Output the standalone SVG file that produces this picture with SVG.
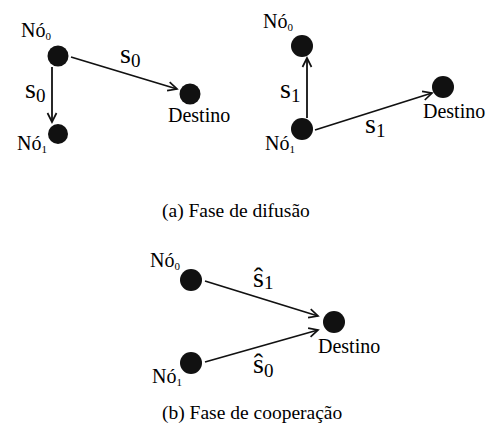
<svg xmlns="http://www.w3.org/2000/svg" width="492" height="432" viewBox="0 0 492 432" font-family="'Liberation Serif', 'Times New Roman', serif">
<style>
text{font-family:"Liberation Serif","Times New Roman",serif;fill:#000}
.lbl{font-size:20px}
.sub{font-size:11px}
.sym{font-size:28px}
.ssub{font-size:19px}
.cap{font-size:19.5px}
.node{fill:#111}
.edge{stroke:#111;stroke-width:1.8;fill:none}
</style>
<defs>
<marker id="arr" markerUnits="userSpaceOnUse" markerWidth="12" markerHeight="12" viewBox="0 0 12 12" refX="10" refY="6" orient="auto">
<path d="M1,1.5 L10,6 L1,10.5" fill="none" stroke="#111" stroke-width="1.7"/>
</marker>
</defs>
<rect width="492" height="432" fill="#fff"/>
<g id="connectors">
<line class="edge" x1="71" y1="57" x2="177" y2="89" marker-end="url(#arr)"/>
<line class="edge" x1="52" y1="67" x2="52" y2="122" marker-end="url(#arr)"/>
<line class="edge" x1="307" y1="118" x2="307" y2="58" marker-end="url(#arr)"/>
<line class="edge" x1="315" y1="130" x2="432" y2="93" marker-end="url(#arr)"/>
<line class="edge" x1="205" y1="281" x2="318" y2="316" marker-end="url(#arr)"/>
<line class="edge" x1="205" y1="362" x2="318" y2="330" marker-end="url(#arr)"/>
</g>
<g id="edge-labels">
<text class="sym" x="120" y="63">s<tspan class="ssub" dy="4">0</tspan></text>
<text class="sym" x="25" y="98">s<tspan class="ssub" dy="4">0</tspan></text>
<text class="sym" x="280" y="98">s<tspan class="ssub" dy="4">1</tspan></text>
<text class="sym" x="365" y="133">s<tspan class="ssub" dy="4">1</tspan></text>
<text class="sym" x="253" y="287">ŝ<tspan class="ssub" dy="2">1</tspan></text>
<text class="sym" x="253" y="373">ŝ<tspan class="ssub" dy="4">0</tspan></text>
</g>
<g id="a-no0">
<circle class="node" cx="58" cy="56" r="10.5"/>
<text class="lbl" x="21" y="37">Nó<tspan class="sub" dy="3">0</tspan></text>
</g>
<g id="a-no1">
<circle class="node" cx="58" cy="134" r="10"/>
<text class="lbl" x="17" y="150">Nó<tspan class="sub" dy="3">1</tspan></text>
</g>
<g id="a-destino">
<circle class="node" cx="190" cy="94" r="10.5"/>
<text class="lbl" x="168" y="122">Destino</text>
</g>
<g id="a2-no0">
<circle class="node" cx="302" cy="46" r="11"/>
<text class="lbl" x="263" y="28">Nó<tspan class="sub" dy="3">0</tspan></text>
</g>
<g id="a2-no1">
<circle class="node" cx="302" cy="129" r="11"/>
<text class="lbl" x="265" y="150">Nó<tspan class="sub" dy="3">1</tspan></text>
</g>
<g id="a2-destino">
<circle class="node" cx="443" cy="87" r="11"/>
<text class="lbl" x="423" y="118">Destino</text>
</g>
<g id="b-no0">
<circle class="node" cx="191" cy="280" r="11"/>
<text class="lbl" x="150" y="267">Nó<tspan class="sub" dy="3">0</tspan></text>
</g>
<g id="b-no1">
<circle class="node" cx="191" cy="363" r="11"/>
<text class="lbl" x="152" y="383">Nó<tspan class="sub" dy="3">1</tspan></text>
</g>
<g id="b-destino">
<circle class="node" cx="334" cy="322" r="11"/>
<text class="lbl" x="318" y="353">Destino</text>
</g>
<text class="cap" x="162" y="217">(a) Fase de difusão</text>
<text class="cap" x="162" y="419">(b) Fase de cooperação</text>
</svg>
